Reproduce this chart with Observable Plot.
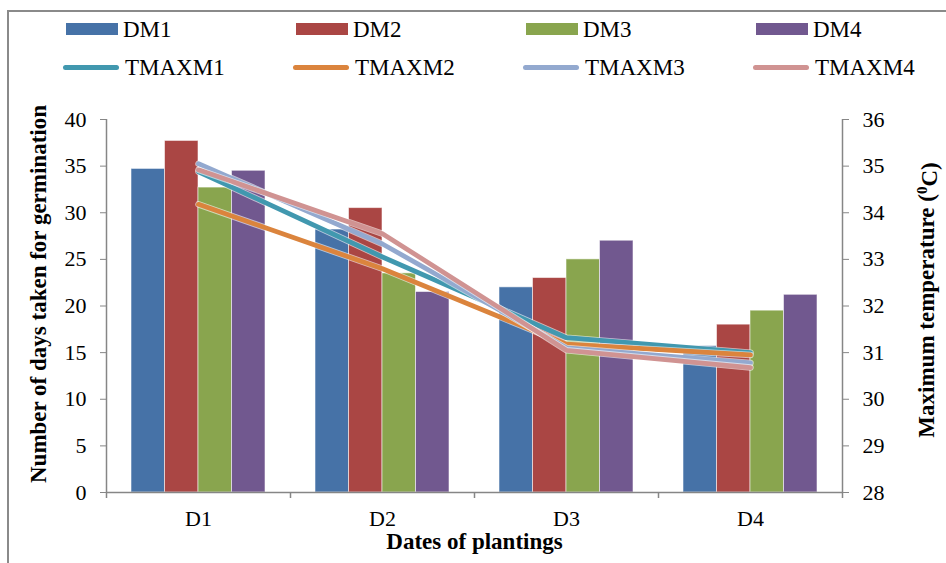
<!DOCTYPE html>
<html><head><meta charset="utf-8">
<script src="https://cdn.jsdelivr.net/npm/d3@7"></script>
<script src="https://cdn.jsdelivr.net/npm/@observablehq/plot@0.6"></script>
<style>
html,body{margin:0;padding:0;background:#fff;overflow:hidden}
#wrap{position:relative;width:946px;height:563px;overflow:hidden;font-family:"Liberation Serif","Times New Roman",serif;color:#000}
#border{position:absolute;left:7px;top:10px;width:1100px;height:800px;border:2px solid #8a8a8a;box-sizing:border-box;pointer-events:none}
#legend{position:relative;height:100px}
.sw{position:absolute}
.lt{position:absolute;font-size:23px;line-height:23px;white-space:nowrap}
#chart{position:relative}
#chart svg{display:block}
#chart svg text{font-family:"Liberation Serif","Times New Roman",serif}
</style></head>
<body>
<div id="wrap">
  <div id="border"></div>
  <div id="legend"></div>
  <div id="chart"></div>
</div>
<script>
// ---- data ----
const dates = ["D1", "D2", "D3", "D4"];
const DM1 = [34.7, 28.2, 22.0, 15.7];
const DM2 = [37.7, 30.5, 23.0, 18.0];
const DM3 = [32.7, 23.5, 25.0, 19.5];
const DM4 = [34.5, 21.5, 27.0, 21.2];
const TMAXM1 = [34.88, 33.05, 31.32, 31.0];
const TMAXM2 = [34.18, 32.8, 31.18, 30.95];
const TMAXM3 = [35.05, 33.33, 31.1, 30.78];
const TMAXM4 = [34.92, 33.55, 31.05, 30.68];
const barNames = ["DM1", "DM2", "DM3", "DM4"];
const lineNames = ["TMAXM1", "TMAXM2", "TMAXM3", "TMAXM4"];
const leftTicks = [0, 5, 10, 15, 20, 25, 30, 35, 40];
const rightTicks = [28, 29, 30, 31, 32, 33, 34, 35, 36];
const xTitle = "Dates of plantings";
const yTitle = "Number of days taken for germination";
const y2Title = "Maximum temperature (0C)";

// ---- styles ----
const barSeries = [DM1, DM2, DM3, DM4];
const lineSeries = [TMAXM1, TMAXM2, TMAXM3, TMAXM4];
const barColors = ["#4672A7", "#AA4644", "#89A54E", "#71588F"];
const lineColors = ["#4198AF", "#DB843D", "#93A9CF", "#D09392"];
const axisColor = "#868686";
const serif = '"Liberation Serif", "Times New Roman", serif';

// secondary axis mapping: 28..36 °C onto 0..40
const t0 = rightTicks[0], t1 = rightTicks[rightTicks.length - 1];
const y0 = leftTicks[0], y1 = leftTicks[leftTicks.length - 1];
const toY = t => y0 + (t - t0) * (y1 - y0) / (t1 - t0);
const fromY = v => t0 + (v - y0) * (t1 - t0) / (y1 - y0);

// ---- legend ----
const legend = document.getElementById("legend");
const cols = [66, 296, 526, 756];
barNames.forEach((n, i) => {
  const s = document.createElement("div");
  s.className = "sw";
  Object.assign(s.style, {left: cols[i] + "px", top: "23px", width: "52px", height: "12px", background: barColors[i]});
  legend.appendChild(s);
  const t = document.createElement("div");
  t.className = "lt"; t.textContent = n;
  Object.assign(t.style, {left: (cols[i] + 57) + "px", top: "17.5px"});
  legend.appendChild(t);
});
lineNames.forEach((n, i) => {
  const s = document.createElement("div");
  s.className = "sw";
  Object.assign(s.style, {left: (cols[i] - 3) + "px", top: "65px", width: "56px", height: "5px", background: lineColors[i], borderRadius: "3px", boxShadow: "0 0 1px 1px rgba(255,255,255,0.6)"});
  legend.appendChild(s);
  const t = document.createElement("div");
  t.className = "lt"; t.textContent = n;
  Object.assign(t.style, {left: (cols[i] + 59) + "px", top: "55.7px"});
  legend.appendChild(t);
});

// ---- plot ----
const W = 946, H = 463, mL = 106, mR = 104, mT = 19, mB = 71;
const band = (W - mL - mR) / dates.length;
const groupW = 134, barW = groupW / barSeries.length, pad = (band - groupW) / 2;

const marks = [];
barSeries.forEach((s, i) => {
  marks.push(Plot.barY(s, {
    x: dates, y: s, fill: barColors[i],
    insetLeft: pad + i * barW, insetRight: band - pad - (i + 1) * barW,
    stroke: "#ffffff", strokeOpacity: 0.55, strokeWidth: 1
  }));
});
marks.push(
  Plot.ruleY([0], {stroke: axisColor, strokeWidth: 1.5}),
  Plot.ruleX([dates[0]], {dx: -band / 2, stroke: axisColor, strokeWidth: 1.5}),
  Plot.ruleX([dates[dates.length - 1]], {dx: band / 2, stroke: axisColor, strokeWidth: 1.5}),
  Plot.ruleX(dates, {dx: -band / 2, y1: 0, y2: 0, insetBottom: -6, stroke: axisColor, strokeWidth: 1.5}),
  Plot.ruleX([dates[dates.length - 1]], {dx: band / 2, y1: 0, y2: 0, insetBottom: -6, stroke: axisColor, strokeWidth: 1.5}),
  Plot.axisY({anchor: "left", ticks: leftTicks, tickSize: 6, tickPadding: 14, stroke: axisColor, fontSize: 22, fontFamily: serif, label: null}),
  Plot.axisY({anchor: "right", ticks: rightTicks.map(toY), tickFormat: v => String(Math.round(fromY(v))), tickSize: 6, tickPadding: 14, stroke: axisColor, fontSize: 22, fontFamily: serif, label: null}),
  Plot.axisX({tickSize: 0, tickPadding: 18, fontSize: 22, fontFamily: serif, label: null})
);
lineSeries.forEach((s, i) => {
  marks.push(Plot.line(dates, {
    x: d => d, y: (d, j) => toY(s[j]),
    stroke: "#ffffff", strokeOpacity: 0.6, strokeWidth: 6.5, strokeLinecap: "round", strokeLinejoin: "round"
  }));
  marks.push(Plot.line(dates, {
    x: d => d, y: (d, j) => toY(s[j]),
    stroke: lineColors[i], strokeWidth: 4.8, strokeLinecap: "round", strokeLinejoin: "round"
  }));
});
marks.push(
  Plot.text([yTitle], {frameAnchor: "left", text: d => d, rotate: -90, textAnchor: "middle", dx: -67.5, dy: -12, fontSize: 23, fontWeight: "bold", fill: "#000", fontFamily: serif}),
  Plot.text([y2Title], {frameAnchor: "right", text: d => d, rotate: -90, textAnchor: "middle", dx: 84, dy: -6, fontSize: 23, fontWeight: "bold", fill: "#000", fontFamily: serif}),
  Plot.text([xTitle], {frameAnchor: "bottom", text: d => d, dy: 56, fontSize: 23, fontWeight: "bold", fill: "#000", fontFamily: serif})
);

const chart = Plot.plot({
  width: W, height: H,
  marginLeft: mL, marginRight: mR, marginTop: mT, marginBottom: mB,
  x: {domain: dates, padding: 0, axis: null},
  y: {domain: [y0, y1], axis: null},
  style: {fontFamily: serif, fontSize: "22px", background: "transparent", overflow: "visible", color: "#000"},
  marks
});
document.getElementById("chart").appendChild(chart);

// superscript "0" in the secondary axis title
d3.select(chart).selectAll("text").each(function () {
  if (this.textContent === y2Title) {
    const el = d3.select(this);
    el.text(null);
    el.append("tspan").text("Maximum temperature (");
    el.append("tspan").attr("dy", "-0.45em").attr("font-size", "15px").text("0");
    el.append("tspan").attr("dy", "0.45em").text("C)");
  }
});
</script>
</body></html>
